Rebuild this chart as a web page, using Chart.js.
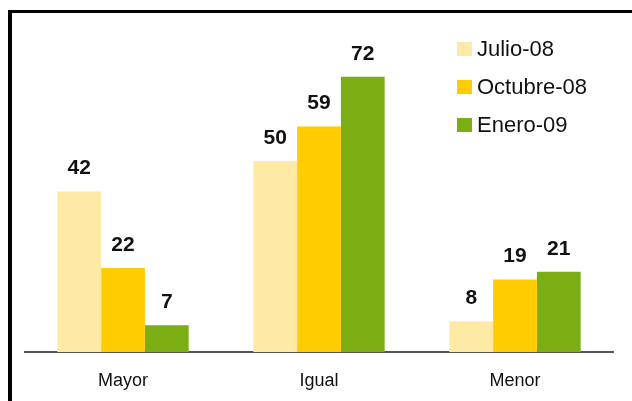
<!DOCTYPE html>
<html>
<head>
<meta charset="utf-8">
<script src="https://cdn.jsdelivr.net/npm/chart.js@4/dist/chart.umd.min.js"></script>
<style>
html,body{margin:0;padding:0;background:#fff;}
#wrap{position:relative;width:632px;height:401px;}
</style>
</head>
<body>
<div id="wrap"><canvas id="c" width="632" height="401"></canvas></div>
<script>
const categories = ["Mayor", "Igual", "Menor"];
const seriesNames = ["Julio-08", "Octubre-08", "Enero-09"];
const julio08 = [42, 50, 8];
const octubre08 = [22, 59, 19];
const enero09 = [7, 72, 21];
const seriesColors = ["#FFEAA5", "#FFCC00", "#7BAE12"];

const FONT = "'Liberation Sans', Arial, sans-serif";

const framePlugin = {
  id: 'frame',
  afterDraw(chart) {
    const ctx = chart.ctx;
    ctx.save();
    ctx.fillStyle = '#000';
    ctx.fillRect(8, 10, 632 - 8, 3);
    ctx.fillRect(8, 10, 4, 401 - 10);
    ctx.restore();
  }
};

const labelPlugin = {
  id: 'valueLabels',
  afterDatasetsDraw(chart) {
    const ctx = chart.ctx;
    ctx.save();
    ctx.font = "bold 21px " + FONT;
    ctx.fillStyle = '#111';
    ctx.textAlign = 'center';
    ctx.textBaseline = 'middle';
    chart.data.datasets.forEach((ds, i) => {
      const meta = chart.getDatasetMeta(i);
      meta.data.forEach((bar, j) => {
        ctx.fillText(String(ds.data[j]), bar.x, bar.y - 23);
      });
    });
    ctx.restore();
  }
};

const legendPlugin = {
  id: 'customLegend',
  afterDraw(chart) {
    const ctx = chart.ctx;
    ctx.save();
    ctx.font = "22px " + FONT;
    ctx.textBaseline = 'middle';
    ctx.textAlign = 'left';
    chart.data.datasets.forEach((ds, i) => {
      const cy = 49 + i * 38;
      ctx.fillStyle = ds.backgroundColor;
      ctx.fillRect(457, cy - 7, 15, 14);
      ctx.fillStyle = '#111';
      ctx.fillText(ds.label, 477, cy + 1);
    });
    ctx.restore();
  }
};

const seriesData = [julio08, octubre08, enero09];

new Chart(document.getElementById('c'), {
  type: 'bar',
  data: {
    labels: categories,
    datasets: seriesNames.map((n, i) => ({
      label: n,
      data: seriesData[i],
      backgroundColor: seriesColors[i],
      borderWidth: 0,
      categoryPercentage: 0.67,
      barPercentage: 1.0
    }))
  },
  options: {
    responsive: false,
    animation: false,
    devicePixelRatio: 1,
    layout: { padding: { left: 25, right: 19, top: 8, bottom: 0 } },
    plugins: {
      legend: { display: false },
      tooltip: { enabled: false }
    },
    scales: {
      x: {
        grid: { display: false, drawTicks: false },
        border: { display: true, color: '#555', width: 2 },
        ticks: { color: '#111', font: { family: FONT, size: 18 }, padding: 18 },
        afterFit(scale) { scale.height = 49; }
      },
      y: {
        display: false,
        min: 0,
        max: 90
      }
    }
  },
  plugins: [framePlugin, labelPlugin, legendPlugin]
});
</script>
</body>
</html>
